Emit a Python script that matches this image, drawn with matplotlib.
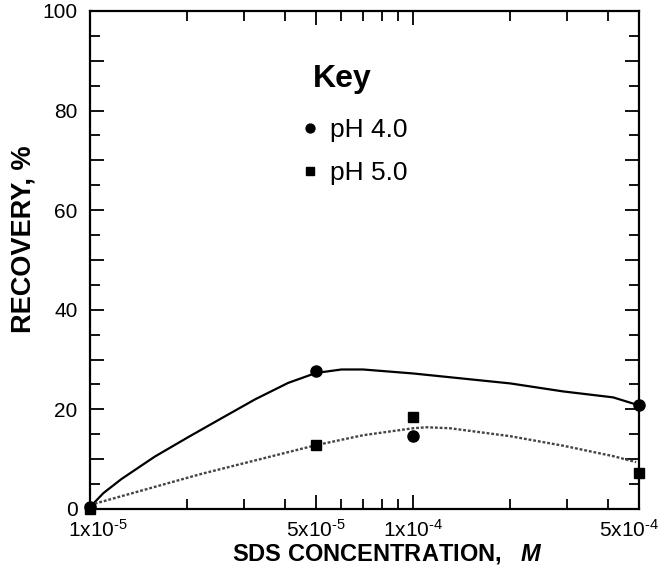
import numpy as np
import matplotlib
matplotlib.use('Agg')
import matplotlib.pyplot as plt
from matplotlib.ticker import FixedLocator, MultipleLocator, FuncFormatter, NullFormatter
import matplotlib.transforms as mtransforms

plt.rcParams['font.family'] = ['Liberation Sans', 'DejaVu Sans']
plt.rcParams['mathtext.fontset'] = 'custom'
plt.rcParams['mathtext.rm'] = 'Liberation Sans'
plt.rcParams['mathtext.it'] = 'Liberation Sans:italic'
plt.rcParams['mathtext.bf'] = 'Liberation Sans:bold'
plt.rcParams['mathtext.bfit'] = 'Liberation Sans:italic:bold'

# measured points
sds_conc = [1e-5, 5e-5, 1e-4, 5e-4]
rec_ph4 = [0.4, 27.6, 14.6, 20.8]
rec_ph5 = [0.0, 12.8, 18.4, 7.2]

# fitted curves as drawn
fit4_x = [1e-5, 1.1e-5, 1.25e-5, 1.585e-5, 2.01e-5, 2.55e-5, 3.24e-5, 4.1e-5, 5e-5, 6e-5, 7.0e-5, 1e-4, 2e-4, 2.91e-4, 4.16e-4, 5e-4]
fit4_y = [0.4, 3.2, 6.0, 10.5, 14.4, 18.2, 22.0, 25.3, 27.3, 28.0, 28.0, 27.2, 25.2, 23.6, 22.4, 20.8]
fit5_x = [1e-5, 2.2e-5, 5e-5, 7.0e-5, 1e-4, 1.1e-4, 1.3e-4, 2e-4, 2.91e-4, 4.16e-4, 4.9e-4]
fit5_y = [0.8, 7.0, 12.8, 14.8, 16.2, 16.4, 16.2, 14.6, 12.7, 10.6, 9.4]

xticks = [1e-5, 5e-5, 1e-4, 5e-4]
xticklabels = ['1x10$^{\u20105}$', '5x10$^{\u20105}$', '1x10$^{\u20104}$', '5x10$^{\u20104}$']
xminor = [2e-5, 3e-5, 4e-5, 6e-5, 7e-5, 8e-5, 9e-5, 2e-4, 3e-4, 4e-4]
legend_labels = ['pH 4.0', 'pH 5.0']

fig = plt.figure(figsize=(6.58, 5.77), dpi=100)
ax = fig.add_axes([0.137, 0.118, 0.834, 0.863])

ax.plot(fit4_x, fit4_y, c='black', lw=1.6, clip_on=False)
ax.plot(fit5_x, fit5_y, c='#444444', lw=1.7, ls=(0, (1.2, 0.8)), clip_on=False)

h1, = ax.plot(sds_conc, rec_ph4, ls='none', marker='o', ms=8, c='black', clip_on=False, zorder=5)
h2, = ax.plot(sds_conc, rec_ph5, ls='none', marker='s', ms=7.4, c='black', clip_on=False, zorder=5)

ax.set_xscale('log')
ax.set_xlim(1e-5, 5e-4)
ax.set_ylim(0, 100)

ax.xaxis.set_major_locator(FixedLocator(xticks))
ax.set_xticklabels(xticklabels)
ax.xaxis.set_minor_locator(FixedLocator(xminor))
ax.xaxis.set_minor_formatter(NullFormatter())

ax.yaxis.set_major_locator(MultipleLocator(10))
ax.yaxis.set_major_formatter(FuncFormatter(lambda v, p: '%d' % v if v % 20 == 0 else ''))
ax.yaxis.set_minor_locator(MultipleLocator(5))

ax.tick_params(which='both', direction='in', top=True, right=True, width=1.3)
ax.tick_params(which='major', length=10)
ax.tick_params(which='minor', length=7)
ax.tick_params(axis='x', pad=7, labelsize=15)
ax.tick_params(axis='y', pad=9, labelsize=15)
for s in ax.spines.values():
    s.set_linewidth(1.6)

# first and last labels nudged as in the original
lbls = ax.get_xticklabels()
lbls[0].set_transform(lbls[0].get_transform() + mtransforms.ScaledTranslation(0.08, 0, fig.dpi_scale_trans))
lbls[-1].set_transform(lbls[-1].get_transform() + mtransforms.ScaledTranslation(-0.1, 0, fig.dpi_scale_trans))
ylb0 = ax.get_yticklabels()[0]
ylb0.set_transform(ylb0.get_transform() + mtransforms.ScaledTranslation(0, 0.05, fig.dpi_scale_trans))

ax.set_xlabel(r'SDS CONCENTRATION,   $\mathbfit{M}$', fontsize=17, fontweight='bold', x=0.541, labelpad=1)
ax.set_ylabel('RECOVERY, %', fontsize=19.5, fontweight='bold', labelpad=4, y=0.542)

ax.text(0.406, 0.847, 'Key', transform=ax.transAxes, fontsize=23, fontweight='bold', va='baseline', ha='left')
ax.legend([h1, h2], legend_labels, frameon=False, fontsize=19, markerscale=0.8,
          loc='upper left', bbox_to_anchor=(0.336, 0.832), handletextpad=0.3,
          handlelength=0.9, labelspacing=0.7)

fig.savefig('out.png', dpi=100)
